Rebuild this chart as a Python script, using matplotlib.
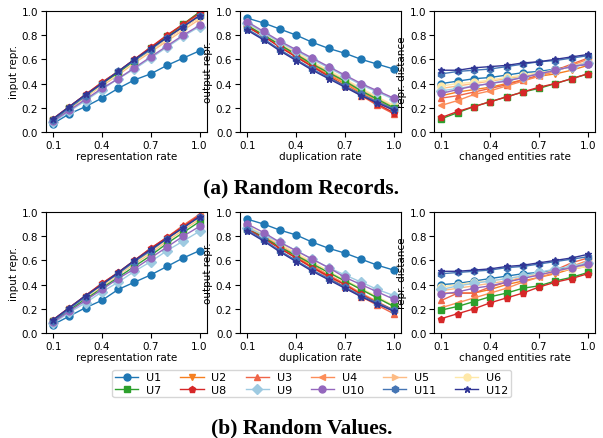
import numpy as np
import matplotlib.pyplot as plt

x = [0.1, 0.2, 0.3, 0.4, 0.5, 0.6, 0.7, 0.8, 0.9, 1.0]
names = ['U1', 'U2', 'U3', 'U4', 'U5', 'U6', 'U7', 'U8', 'U9', 'U10', 'U11', 'U12']
colors = ['#1f77b4', '#f57f20', '#ef6548', '#fc8d59', '#fdbb84', '#fee8a8',
          '#2ca02c', '#d62728', '#9ecae1', '#9467bd', '#4575b4', '#313695']
markers = ['o', 'v', '^', '<', '>', 'o', 's', 'p', 'D', 'o', 'h', '*']

# (a) random records
a_input = [
    [0.07, 0.15, 0.21, 0.28, 0.36, 0.43, 0.48, 0.55, 0.61, 0.67],
    [0.10, 0.20, 0.29, 0.39, 0.49, 0.58, 0.67, 0.77, 0.86, 0.95],
    [0.11, 0.21, 0.31, 0.41, 0.50, 0.60, 0.70, 0.79, 0.89, 0.99],
    [0.10, 0.20, 0.30, 0.40, 0.49, 0.59, 0.69, 0.78, 0.88, 0.97],
    [0.10, 0.19, 0.29, 0.38, 0.47, 0.57, 0.66, 0.75, 0.84, 0.93],
    [0.10, 0.20, 0.29, 0.39, 0.48, 0.58, 0.67, 0.77, 0.86, 0.95],
    [0.10, 0.20, 0.30, 0.40, 0.49, 0.59, 0.69, 0.79, 0.89, 0.99],
    [0.11, 0.21, 0.31, 0.41, 0.50, 0.60, 0.70, 0.80, 0.89, 0.98],
    [0.08, 0.17, 0.26, 0.35, 0.44, 0.52, 0.61, 0.70, 0.79, 0.87],
    [0.09, 0.18, 0.27, 0.36, 0.44, 0.53, 0.62, 0.71, 0.80, 0.88],
    [0.10, 0.20, 0.30, 0.40, 0.50, 0.59, 0.68, 0.78, 0.87, 0.96],
    [0.11, 0.21, 0.31, 0.40, 0.50, 0.60, 0.69, 0.78, 0.87, 0.96],
]
a_output = [
    [0.94, 0.90, 0.85, 0.80, 0.74, 0.69, 0.65, 0.60, 0.56, 0.52],
    [0.87, 0.79, 0.71, 0.63, 0.55, 0.47, 0.40, 0.32, 0.25, 0.18],
    [0.87, 0.79, 0.71, 0.62, 0.54, 0.46, 0.38, 0.30, 0.22, 0.15],
    [0.88, 0.80, 0.72, 0.64, 0.56, 0.48, 0.41, 0.33, 0.26, 0.19],
    [0.88, 0.81, 0.73, 0.65, 0.57, 0.50, 0.43, 0.35, 0.28, 0.21],
    [0.89, 0.81, 0.73, 0.66, 0.58, 0.51, 0.44, 0.36, 0.29, 0.22],
    [0.88, 0.80, 0.72, 0.64, 0.56, 0.49, 0.42, 0.34, 0.27, 0.20],
    [0.87, 0.79, 0.70, 0.62, 0.54, 0.46, 0.38, 0.31, 0.23, 0.16],
    [0.90, 0.82, 0.74, 0.67, 0.60, 0.53, 0.46, 0.39, 0.33, 0.27],
    [0.91, 0.83, 0.75, 0.68, 0.61, 0.54, 0.47, 0.40, 0.34, 0.28],
    [0.85, 0.77, 0.68, 0.60, 0.52, 0.45, 0.38, 0.31, 0.25, 0.19],
    [0.84, 0.76, 0.67, 0.59, 0.51, 0.44, 0.37, 0.30, 0.24, 0.18],
]
a_dist = [
    [0.40, 0.42, 0.44, 0.45, 0.47, 0.49, 0.50, 0.52, 0.54, 0.56],
    [0.30, 0.33, 0.35, 0.37, 0.40, 0.43, 0.46, 0.48, 0.51, 0.55],
    [0.28, 0.30, 0.33, 0.36, 0.39, 0.43, 0.47, 0.51, 0.56, 0.61],
    [0.22, 0.26, 0.31, 0.34, 0.38, 0.42, 0.46, 0.50, 0.55, 0.60],
    [0.36, 0.38, 0.40, 0.42, 0.44, 0.46, 0.48, 0.51, 0.54, 0.58],
    [0.38, 0.40, 0.41, 0.43, 0.45, 0.47, 0.49, 0.51, 0.54, 0.57],
    [0.11, 0.16, 0.21, 0.25, 0.29, 0.33, 0.36, 0.40, 0.44, 0.48],
    [0.12, 0.17, 0.21, 0.25, 0.29, 0.33, 0.37, 0.40, 0.44, 0.48],
    [0.34, 0.36, 0.38, 0.40, 0.43, 0.45, 0.48, 0.51, 0.54, 0.57],
    [0.32, 0.35, 0.38, 0.40, 0.42, 0.45, 0.48, 0.51, 0.54, 0.56],
    [0.48, 0.50, 0.51, 0.52, 0.54, 0.56, 0.58, 0.59, 0.61, 0.63],
    [0.51, 0.51, 0.53, 0.54, 0.55, 0.57, 0.58, 0.60, 0.62, 0.64],
]

# (b) random values
b_input = [
    [0.07, 0.14, 0.21, 0.27, 0.36, 0.42, 0.48, 0.55, 0.62, 0.68],
    [0.10, 0.20, 0.30, 0.39, 0.49, 0.58, 0.68, 0.77, 0.86, 0.95],
    [0.11, 0.21, 0.31, 0.41, 0.50, 0.60, 0.70, 0.79, 0.89, 0.98],
    [0.10, 0.20, 0.30, 0.40, 0.49, 0.59, 0.69, 0.78, 0.88, 0.97],
    [0.10, 0.19, 0.29, 0.38, 0.48, 0.57, 0.66, 0.76, 0.85, 0.94],
    [0.10, 0.20, 0.29, 0.39, 0.48, 0.58, 0.67, 0.77, 0.86, 0.95],
    [0.10, 0.19, 0.28, 0.37, 0.46, 0.55, 0.64, 0.74, 0.83, 0.92],
    [0.11, 0.21, 0.31, 0.41, 0.50, 0.60, 0.70, 0.79, 0.88, 0.97],
    [0.08, 0.17, 0.25, 0.34, 0.42, 0.51, 0.59, 0.68, 0.76, 0.84],
    [0.09, 0.18, 0.27, 0.36, 0.45, 0.53, 0.62, 0.71, 0.80, 0.88],
    [0.10, 0.20, 0.30, 0.40, 0.49, 0.59, 0.68, 0.78, 0.87, 0.96],
    [0.11, 0.21, 0.31, 0.40, 0.50, 0.60, 0.69, 0.78, 0.87, 0.96],
]
b_output = [
    [0.94, 0.90, 0.85, 0.81, 0.75, 0.70, 0.66, 0.61, 0.56, 0.52],
    [0.87, 0.79, 0.71, 0.63, 0.55, 0.47, 0.40, 0.32, 0.25, 0.18],
    [0.87, 0.79, 0.70, 0.62, 0.54, 0.46, 0.38, 0.30, 0.23, 0.16],
    [0.88, 0.80, 0.72, 0.64, 0.56, 0.48, 0.41, 0.33, 0.26, 0.19],
    [0.88, 0.81, 0.73, 0.65, 0.58, 0.50, 0.43, 0.36, 0.29, 0.22],
    [0.89, 0.81, 0.74, 0.66, 0.59, 0.51, 0.44, 0.37, 0.30, 0.23],
    [0.86, 0.79, 0.71, 0.64, 0.57, 0.50, 0.43, 0.36, 0.29, 0.22],
    [0.86, 0.78, 0.70, 0.62, 0.54, 0.47, 0.40, 0.32, 0.25, 0.19],
    [0.87, 0.81, 0.75, 0.68, 0.61, 0.54, 0.48, 0.42, 0.36, 0.31],
    [0.90, 0.83, 0.75, 0.68, 0.61, 0.54, 0.46, 0.40, 0.34, 0.28],
    [0.85, 0.77, 0.68, 0.60, 0.52, 0.45, 0.38, 0.31, 0.25, 0.19],
    [0.84, 0.76, 0.67, 0.59, 0.51, 0.44, 0.37, 0.30, 0.24, 0.18],
]
b_dist = [
    [0.40, 0.41, 0.43, 0.45, 0.47, 0.49, 0.50, 0.52, 0.55, 0.57],
    [0.33, 0.33, 0.33, 0.36, 0.40, 0.43, 0.46, 0.49, 0.53, 0.55],
    [0.27, 0.33, 0.33, 0.38, 0.42, 0.46, 0.48, 0.52, 0.58, 0.62],
    [0.21, 0.25, 0.29, 0.33, 0.37, 0.42, 0.46, 0.50, 0.55, 0.60],
    [0.35, 0.37, 0.39, 0.41, 0.43, 0.46, 0.48, 0.51, 0.53, 0.56],
    [0.38, 0.40, 0.42, 0.43, 0.45, 0.47, 0.49, 0.51, 0.53, 0.55],
    [0.19, 0.22, 0.26, 0.30, 0.33, 0.37, 0.39, 0.43, 0.46, 0.50],
    [0.12, 0.16, 0.20, 0.25, 0.29, 0.33, 0.38, 0.42, 0.45, 0.49],
    [0.36, 0.39, 0.41, 0.43, 0.45, 0.47, 0.50, 0.53, 0.55, 0.58],
    [0.32, 0.34, 0.37, 0.39, 0.42, 0.45, 0.48, 0.51, 0.54, 0.57],
    [0.49, 0.50, 0.51, 0.52, 0.54, 0.55, 0.57, 0.59, 0.61, 0.63],
    [0.51, 0.51, 0.52, 0.53, 0.55, 0.56, 0.58, 0.60, 0.62, 0.65],
]

xlabels = ['representation rate', 'duplication rate', 'changed entities rate']
ylabels = ['input repr.', 'output repr.', 'repr. distance']

plt.rcParams['font.size'] = 7.5

fig = plt.figure(figsize=(6.03, 4.39), dpi=100)
lefts = [0.076, 0.398, 0.720]
bottoms = [0.697, 0.239]
w, h = 0.267, 0.276

rows = [[a_input, a_output, a_dist], [b_input, b_output, b_dist]]
handles = []
for r, panel_data in enumerate(rows):
    for c, series in enumerate(panel_data):
        ax = fig.add_axes([lefts[c], bottoms[r], w, h])
        for i, ys in enumerate(series):
            ln, = ax.plot(x, ys, color=colors[i], marker=markers[i],
                          markersize=5, linewidth=1, label=names[i])
            if r == 0 and c == 0:
                handles.append(ln)
        ax.set_ylim(0, 1)
        ax.set_xticks([0.1, 0.4, 0.7, 1.0])
        ax.set_yticks([0.0, 0.2, 0.4, 0.6, 0.8, 1.0])
        ax.set_xlabel(xlabels[c], labelpad=1)
        ax.set_ylabel(ylabels[c], labelpad=2)
        ax.tick_params(length=3.5, pad=2)

# legend fills column by column, so interleave the two rows
order = [k for pair in zip(range(6), range(6, 12)) for k in pair]
fig.legend([handles[k] for k in order], [names[k] for k in order], ncol=6,
           loc='center', bbox_to_anchor=(0.517, 0.124), fontsize=8,
           handlelength=2.1, columnspacing=1.7, handletextpad=0.7,
           borderpad=0.25, labelspacing=0.2, frameon=True)

fig.text(0.5, 0.570, '(a) Random Records.', ha='center', va='center',
         fontsize=15.5, fontweight='bold', family='Liberation Serif')
fig.text(0.5, 0.025, '(b) Random Values.', ha='center', va='center',
         fontsize=15.5, fontweight='bold', family='Liberation Serif')

fig.savefig('out.png', dpi=100)
